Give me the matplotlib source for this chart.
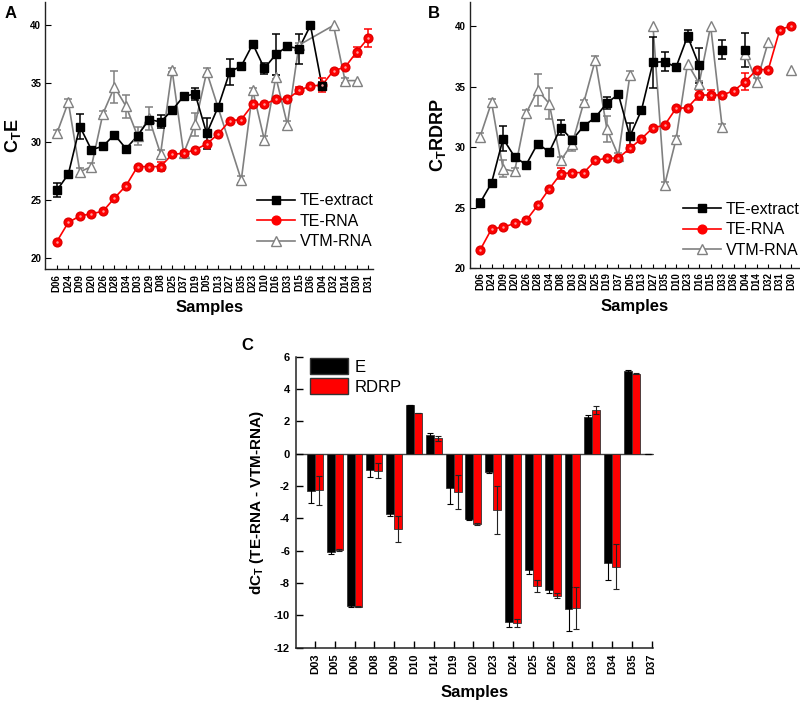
import numpy as np
import matplotlib.pyplot as plt
from matplotlib.patches import Patch
from matplotlib.lines import Line2D

plt.rcParams['font.family'] = ['Liberation Sans', 'DejaVu Sans']

nan = np.nan

# ---- panel A : C_T of E gene ----
samples_a = ["D06", "D24", "D09", "D20", "D26", "D28", "D34", "D03", "D29", "D08",
             "D25", "D37", "D19", "D05", "D13", "D27", "D35", "D23", "D10", "D16",
             "D33", "D15", "D36", "D04", "D32", "D14", "D30", "D31"]
te_extract_a = [25.8, 27.2, 31.3, 29.3, 29.6, 30.6, 29.4, 30.5, 31.9, 31.7,
                32.7, 33.9, 34.1, 30.7, 33.0, 36.0, 36.5, 38.4, 36.3, 37.5,
                38.2, 38.0, 40.0, 34.8, nan, nan, nan, nan]
te_extract_a_err = [0.6, 0, 1.1, 0, 0, 0, 0, 0, 0, 0.55,
                    0, 0, 0.5, 1.35, 0, 1.15, 0, 0, 0.5, 1.75,
                    0.3, 1.3, 0, 0.3, 0, 0, 0, 0]
te_rna_a = [21.4, 23.05, 23.6, 23.8, 24.0, 25.15, 26.2, 27.85, 27.85, 27.85,
            28.9, 29.0, 29.3, 29.8, 30.65, 31.8, 31.9, 33.2, 33.2, 33.65,
            33.65, 34.4, 34.8, 34.85, 36.1, 36.4, 37.7, 38.9]
te_rna_a_err = [0, 0, 0, 0, 0, 0, 0, 0, 0, 0.4,
                0, 0, 0, 0, 0, 0, 0, 0, 0, 0,
                0, 0.3, 0, 0.6, 0, 0, 0.4, 0.8]
vtm_rna_a = [30.7, 33.4, 27.4, 27.85, 32.4, 34.7, 33.05, 30.5, 32.0, 28.95,
             36.15, 29.0, 31.5, 36.0, nan, nan, 26.7, 34.4, 30.15, 35.55,
             31.45, 38.3, nan, nan, 40.0, 35.25, 35.25, nan]
vtm_rna_a_err = [0.3, 0.3, 0.3, 0.3, 0.2, 1.4, 1.0, 0.8, 1.0, 0.3,
                 0.2, 0.2, 1.0, 0.3, 0, 0, 0.3, 0.2, 0.3, 0.2,
                 0.3, 0.2, 0, 0, 0, 0.2, 0, 0]

# ---- panel B : C_T of RDRP gene ----
samples_b = ["D06", "D24", "D09", "D20", "D26", "D28", "D34", "D08", "D03", "D29",
             "D25", "D19", "D37", "D05", "D13", "D27", "D35", "D10", "D23", "D16",
             "D15", "D33", "D36", "D04", "D14", "D32", "D31", "D30"]
te_extract_b = [25.4, 27.05, 30.7, 29.2, 28.55, 30.3, 29.6, 31.6, 30.6, 31.75,
                32.45, 33.65, 34.35, 30.9, 33.05, 37.0, 37.05, 36.6, 39.15, 36.75,
                nan, 38.05, nan, 38.0, nan, nan, nan, nan]
te_extract_b_err = [0.3, 0, 1.05, 0, 0, 0, 0, 0.6, 0, 0,
                    0, 0.5, 0, 1.1, 0, 2.1, 0.8, 0, 0.5, 1.45,
                    0, 0.8, 0, 1.4, 0, 0, 0, 0]
te_rna_b = [21.5, 23.25, 23.4, 23.7, 23.95, 25.2, 26.55, 27.8, 27.9, 27.9,
            28.9, 29.1, 29.1, 29.9, 30.7, 31.6, 31.8, 33.2, 33.25, 34.3,
            34.3, 34.3, 34.65, 35.4, 36.4, 36.4, 39.7, 40.0]
te_rna_b_err = [0, 0, 0, 0, 0, 0, 0, 0.45, 0, 0,
                0, 0, 0, 0.3, 0, 0, 0, 0, 0, 0.4,
                0.45, 0, 0, 0.7, 0, 0, 0, 0]
vtm_rna_b = [30.85, 33.7, 28.2, 28.0, 32.8, 34.7, 33.6, 28.9, 30.3, 33.7,
             37.2, 31.5, 29.3, 35.95, nan, 40.0, 26.85, 30.65, 36.9, 35.25,
             40.0, 31.65, nan, 37.7, 35.4, 38.7, nan, 36.4]
vtm_rna_b_err = [0.3, 0.3, 0.7, 0.3, 0.3, 1.3, 1.3, 0.3, 0.6, 0.2,
                 0.3, 1.1, 0.2, 0.3, 0, 0, 0.3, 0.3, 0, 0.2,
                 0, 0.3, 0, 0, 0.3, 0, 0, 0]

# ---- panel C : dCt (TE-RNA - VTM-RNA) ----
samples_c = ["D03", "D05", "D06", "D08", "D09", "D10", "D14", "D19", "D20",
             "D23", "D24", "D25", "D26", "D28", "D33", "D34", "D35", "D37"]
dct_e = [-2.29, -6.1, -9.42, -1.0, -3.73, 3.01, 1.16, -2.14, -4.06,
         -1.12, -10.39, -7.19, -8.45, -9.6, 2.27, -6.76, 5.11, 0.0]
dct_e_err = [0.74, 0.1, 0.05, 0.42, 0.15, 0.0, 0.1, 0.98, 0.05,
             0.1, 0.35, 0.27, 0.15, 1.37, 0.15, 1.07, 0.08, 0.0]
dct_rdrp = [-2.27, -5.95, -9.46, -1.05, -4.68, 2.5, 0.95, -2.39, -4.35,
            -3.48, -10.45, -8.16, -8.78, -9.52, 2.7, -6.99, 4.95, 0.0]
dct_rdrp_err = [0.88, 0.05, 0.05, 0.45, 0.8, 0.0, 0.15, 1.05, 0.05,
                1.5, 0.25, 0.37, 0.15, 1.3, 0.25, 1.4, 0.05, 0.0]

BLACK = '#000000'
RED = '#ff0000'
GRAY = '#808080'
TICKFONT = dict(fontsize=7, fontweight='bold')


def draw_series(ax, y, err, color, kind, connect_gaps=False):
    y = np.array(y, dtype=float)
    err = np.array(err, dtype=float)
    x = np.arange(len(y))
    ok = ~np.isnan(y)
    if connect_gaps:
        ax.plot(x[ok], y[ok], '-', color=color, lw=1.2, zorder=2)
    else:
        ax.plot(x, y, '-', color=color, lw=1.2, zorder=2)
    has_err = ok & (err > 0)
    ax.errorbar(x[has_err], y[has_err], yerr=err[has_err], fmt='none',
                ecolor=color, elinewidth=1.1, capsize=3, capthick=1.1, zorder=3)
    if kind == 'square':
        ax.plot(x[ok], y[ok], 's', color=BLACK, ms=6, zorder=4, ls='none')
    elif kind == 'circle':
        ax.plot(x[ok], y[ok], 'o', mfc=RED, mec='#e00000', ms=6.3, zorder=4, ls='none')
        ax.plot(x[ok], y[ok], 'o', mfc='#ff9a9a', mec='none', ms=1.8, zorder=5, ls='none')
    else:
        ax.plot(x[ok], y[ok], '^', mfc='white', mec=GRAY, mew=1.0, ms=7.5, zorder=4, ls='none')


def style_line_axes(ax, samples, ylabel, ylim, xlim):
    ax.set_xlim(*xlim)
    ax.set_ylim(*ylim)
    ax.set_xticks(range(len(samples)))
    ax.set_xticklabels(samples, rotation=90, **TICKFONT)
    ax.set_yticks([20, 25, 30, 35, 40])
    ax.set_yticklabels(['20', '25', '30', '35', '40'], **TICKFONT)
    for s in ['top', 'right']:
        ax.spines[s].set_visible(False)
    for s in ['left', 'bottom']:
        ax.spines[s].set_linewidth(1.0)
        ax.spines[s].set_color('#222222')
    ax.tick_params(direction='in', length=4, width=0.8, pad=3)
    ax.tick_params(axis='x', length=3)
    ax.set_xlabel('Samples', fontsize=12, fontweight='bold', labelpad=6)
    ax.set_ylabel(ylabel, fontsize=13, fontweight='bold', labelpad=5)


def line_legend(ax, anchor):
    handles = [
        Line2D([], [], color=BLACK, marker='s', ms=6, lw=1.2),
        Line2D([], [], color=RED, marker='o', mfc=RED, ms=6.3, lw=1.2),
        Line2D([], [], color=GRAY, marker='^', mfc='white', ms=7.5, lw=1.2),
    ]
    ax.legend(handles, ['TE-extract', 'TE-RNA', 'VTM-RNA'], loc='upper left',
              bbox_to_anchor=anchor, frameon=False, fontsize=11.5,
              handlelength=2.4, handletextpad=0.3, labelspacing=0.35,
              borderpad=0, borderaxespad=0)


fig = plt.figure(figsize=(8, 7.11), dpi=100)

# panel A
axA = fig.add_axes([0.0566, 0.621, 0.41, 0.376])
draw_series(axA, vtm_rna_a, vtm_rna_a_err, GRAY, 'triangle', connect_gaps=True)
draw_series(axA, te_rna_a, te_rna_a_err, RED, 'circle')
draw_series(axA, te_extract_a, te_extract_a_err, BLACK, 'square')
style_line_axes(axA, samples_a, r'C$_{\mathregular{T}}$E', (19, 42), (-1.0, 27.45))
line_legend(axA, (0.645, 0.285))
fig.text(0.006, 0.975, 'A', fontsize=12, fontweight='bold')

# panel B
axB = fig.add_axes([0.5875, 0.6226, 0.4125, 0.375])
draw_series(axB, vtm_rna_b, vtm_rna_b_err, GRAY, 'triangle')
draw_series(axB, te_rna_b, te_rna_b_err, RED, 'circle')
draw_series(axB, te_extract_b, te_extract_b_err, BLACK, 'square')
style_line_axes(axB, samples_b, r'C$_{\mathregular{T}}$RDRP', (20, 42), (-0.87, 27.75))
line_legend(axB, (0.645, 0.25))
fig.text(0.535, 0.975, 'B', fontsize=12, fontweight='bold')

# panel C
axC = fig.add_axes([0.3696, 0.089, 0.4463, 0.4093])
xc = np.arange(len(samples_c))
w = 0.4
axC.bar(xc - w / 2, dct_e, w, color=BLACK, edgecolor='#333333', lw=0.6, zorder=2)
axC.bar(xc + w / 2, dct_rdrp, w, color=RED, edgecolor='#333333', lw=0.6, zorder=2)
axC.errorbar(xc - w / 2, dct_e, yerr=dct_e_err, fmt='none', ecolor=BLACK,
             elinewidth=0.8, capsize=2.5, capthick=0.8, zorder=3)
axC.errorbar(xc + w / 2, dct_rdrp, yerr=dct_rdrp_err, fmt='none', ecolor='#222222',
             elinewidth=0.8, capsize=2.5, capthick=0.8, zorder=3)
axC.axhline(0, color='#444444', lw=1.0, zorder=1)
axC.set_xlim(-0.97, 17.05)
axC.set_ylim(-12, 6)
axC.set_xticks(xc)
axC.set_xticklabels(samples_c, rotation=90, fontsize=8, fontweight='bold')
axC.set_yticks(range(-12, 7, 2))
axC.set_yticklabels([str(v) for v in range(-12, 7, 2)], fontsize=8, fontweight='bold')
for s in ['top', 'right']:
    axC.spines[s].set_visible(False)
for s in ['left', 'bottom']:
    axC.spines[s].set_linewidth(1.1)
    axC.spines[s].set_color('#222222')
axC.tick_params(direction='in', length=5, width=1.0, pad=4)
axC.set_xlabel('Samples', fontsize=12, fontweight='bold', labelpad=8)
axC.set_ylabel(r'dC$_{\mathregular{T}}$ (TE-RNA - VTM-RNA)', fontsize=11,
               fontweight='bold', labelpad=6)
axC.legend([Patch(facecolor=BLACK, edgecolor='#333333'),
            Patch(facecolor=RED, edgecolor='#333333')], ['E', 'RDRP'],
           loc='upper left', bbox_to_anchor=(0.04, 0.995), frameon=False,
           fontsize=12, handlelength=2.3, handleheight=1.1, handletextpad=0.4,
           labelspacing=0.2, borderpad=0, borderaxespad=0)
fig.text(0.302, 0.508, 'C', fontsize=12, fontweight='bold')

fig.savefig('out.png', dpi=100)
